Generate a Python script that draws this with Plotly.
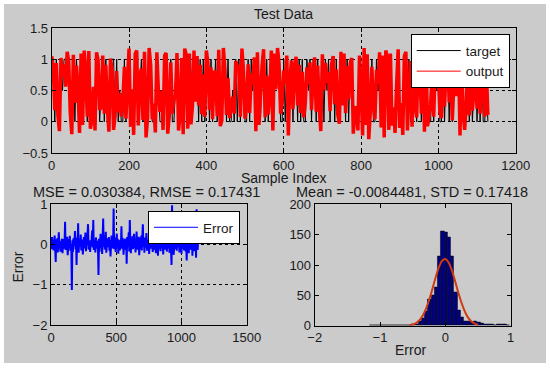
import plotly.graph_objects as go

# ---------------- data ----------------
STEP = 4  # sample spacing used for the hand-read series
target = [
    1,1,0,1,0,0,1,0.5,1,1,1,1,0,0,1,0,1,0.5,0,1,
    0,1,1,0,1,0,0,0,0,1,1,0,0.5,1,0,1,0,0,1,1,
    1,0,1,0,0.5,0,0,1,0,1,1,0,0,0,1,1,0,0.5,1,0,
    1,0,0,1,1,0,0,0,1,0.5,0,0,0,1,1,0,0,1,0,0,
    0.5,0.5,0,0,1,0,1,1,0,1,0,1,1,0.5,1,0,1,0,1,0,
    0.5,1,0,1,0,0.5,1,0,1,0,0,1,1,0,1,0,0,0.5,0,1,
    0,1,0,1,1,0,0,1,0,1,0.5,1,0,1,0,0,1,1,0,1,
    0,0.5,1,0,1,1,1,1,0,0,1,0,1,0,0.5,1,0,1,1,0,
    1,0,1,0,0,1,0.5,1,0,1,1,0,1,0,0,1,0,1,0.5,1,
    0,1,1,0,1,0,0,1,0.5,1,0,1,0,1,1,0,0,0,0,1,
    0.5,0,1,0,1,0,0,1,0,0,1,0.5,1,0,1,0,1,1,0,1,
    0,0,0,0.5,1,0,0,0,1,1,0,1,0,0,1,0.5,0,1,1,0,
    1,0,1,0,0,0,1,0,1,0.5,1,0,0,1,0,1,1,0,1,0,
    1,1,0.5,1,0,1,0,0,0,1,0,1,0,0.5,1,0,1,0,1,0,
    0,1,0,
]
error = [
    0.05,-0.12,0.18,-0.06,0.10,-0.15,0.02,0.22,-0.08,-0.44,0.12,-0.03,0.15,-0.20,0.07,0.30,-0.10,0.04,-0.18,0.09,
    -0.05,0.14,-0.22,0.08,0.13,-0.11,0.03,0.56,-0.14,0.11,-0.02,0.19,-0.27,0.06,0.13,-0.09,0.21,-0.16,0.01,-0.16,
    -1.13,0.10,-0.19,0.15,-0.04,0.08,0.33,-0.12,0.05,-0.51,0.17,-0.08,0.52,-0.21,0.09,0.14,-0.06,0.24,-0.15,0.03,
    0.12,-0.25,0.07,0.18,-0.10,0.04,0.29,-0.17,0.11,-0.02,0.16,0.50,-0.13,0.06,0.10,-0.19,0.09,-0.05,0.13,0.35,
    -0.08,0.60,-0.14,0.10,0.02,-0.20,0.17,0.07,-0.11,0.09,-0.04,-0.76,0.14,-0.18,0.05,0.26,-0.09,0.12,-0.24,0.08,
    0.64,-0.06,0.19,-0.13,0.04,0.31,-0.21,0.09,0.15,-0.07,0.02,0.18,-0.16,0.11,-0.30,0.06,0.22,-0.10,0.13,-0.03,
    0.89,-0.12,0.08,0.17,-0.19,0.05,0.27,-0.08,0.14,-0.23,0.10,0.03,-0.15,0.11,-0.05,0.45,-0.11,0.16,0.07,-0.26,
    0.12,-0.04,0.14,-0.14,0.09,-0.48,0.18,-0.07,0.13,0.30,-0.18,0.60,0.06,-0.22,0.15,-0.02,0.20,-0.12,0.04,0.26,
    -0.09,0.14,-0.20,0.07,0.32,-0.13,0.10,-0.05,0.19,-0.27,0.03,0.16,-0.10,0.22,-0.15,0.08,0.50,-0.06,0.12,-0.21,
    0.17,-0.08,0.05,0.28,-0.16,0.11,-0.03,0.12,-0.24,0.09,0.14,-0.11,0.36,-0.07,0.02,-0.19,0.13,0.25,-0.14,0.06,
    0.10,-0.22,0.18,-0.05,0.08,-0.28,0.15,-0.12,0.27,0.04,-0.17,0.11,0.11,-0.09,0.06,-0.25,0.14,0.03,-0.13,0.09,
    -0.06,0.23,-0.18,0.09,0.16,-0.10,0.30,-0.21,0.05,0.12,-0.14,-0.51,0.97,-0.08,0.18,-0.26,0.07,0.12,-0.12,0.13,
    0.04,-0.16,0.10,-0.07,0.11,0.27,-0.20,0.08,-0.03,0.17,-0.23,0.14,0.06,-0.11,0.24,-0.15,0.09,0.31,-0.18,0.02,
    -0.40,0.12,-0.09,0.09,-0.22,0.07,0.15,-0.13,0.26,-0.06,0.10,-0.28,0.18,0.03,-0.17,0.21,-0.10,0.13,-0.33,0.87,
    0.08,-0.14,0.11,
]
sample_index = [i * STEP for i in range(len(target))]
output = [t + e for t, e in zip(target, error)]

hist_centers = [-1.14,-1.09,-1.04,-0.99,-0.94,-0.89,-0.84,-0.79,-0.74,-0.69,-0.64,-0.59,
                -0.54,-0.49,-0.44,-0.39,-0.34,-0.29,-0.24,-0.19,-0.14,-0.09,-0.04,0.01,
                0.06,0.11,0.16,0.21,0.26,0.31,0.36,0.41,0.46,0.51,0.56,0.61,0.66,0.71,
                0.76,0.81,0.86,0.91,0.96]
hist_counts = [1,0,0,0,0,0,0,0,1,0,0,0,
               1,2,3,7,12,24,44,50,64,115,156,154,
               146,115,55,25,14,8,7,5,8,5,4,3,2,3,
               1,2,3,2,1]
fit_x = [-0.55,-0.5,-0.45,-0.4,-0.35,-0.3,-0.25,-0.2,-0.15,-0.1,-0.05,0.0,
         0.05,0.1,0.15,0.2,0.25,0.3,0.35,0.4,0.45,0.5]
fit_y = [0.9,2.0,4.4,8.7,16,27,42,60,79,96,107,110,
         104,91,73,54,37,23,13,7,3.5,1.6]

top_xticks = [0, 200, 400, 600, 800, 1000, 1200]
top_yticks = [-0.5, 0, 0.5, 1, 1.5]
err_xticks = [0, 500, 1000, 1500]
err_yticks = [-2, -1, 0, 1]
hist_xticks = [-2, -1, 0, 1]
hist_yticks = [0, 50, 100, 150, 200]

# ---------------- figure ----------------
W, H = 550, 371
TICKFONT = dict(family="Arial, Liberation Sans, sans-serif", size=13, color="#1a1a1a")
LABFONT = dict(family="Arial, Liberation Sans, sans-serif", size=14, color="#1a1a1a")
LEGFONT = dict(family="Arial, Liberation Sans, sans-serif", size=13.5, color="#1a1a1a")
TITFONT = dict(family="Arial, Liberation Sans, sans-serif", size=14.5, color="#1a1a1a")

def px(x):
    return x / W

def py(y):
    return 1 - y / H

fig = go.Figure()
fig.add_trace(go.Scatter(x=sample_index, y=target, mode="lines", name="target",
                         line=dict(color="black", width=1), xaxis="x", yaxis="y", legend="legend"))
fig.add_trace(go.Scatter(x=sample_index, y=output, mode="lines", name="output", showlegend=False,
                         line=dict(color="#ff0000", width=3.5), xaxis="x", yaxis="y"))
# legend swatch for output (thin line as in the reference)
fig.add_trace(go.Scatter(x=[None], y=[None], mode="lines", name="output",
                         line=dict(color="#ff0000", width=1), xaxis="x", yaxis="y", legend="legend"))
fig.add_trace(go.Scatter(x=sample_index, y=error, mode="lines", name="Error", showlegend=False,
                         line=dict(color="#0000ff", width=2), xaxis="x2", yaxis="y2"))
fig.add_trace(go.Scatter(x=[None], y=[None], mode="lines", name="Error",
                         line=dict(color="#0000ff", width=1), xaxis="x2", yaxis="y2", legend="legend2"))
fig.add_trace(go.Bar(x=hist_centers, y=hist_counts, width=0.05, showlegend=False,
                     marker=dict(color="#000080", line=dict(color="black", width=0.5)),
                     xaxis="x3", yaxis="y3"))
fig.add_trace(go.Scatter(x=fit_x, y=fit_y, mode="lines", showlegend=False,
                         line=dict(color="#d03a12", width=2, shape="spline"),
                         xaxis="x3", yaxis="y3"))

def ax(domain, rng, ticks, grid, anchor):
    return dict(domain=domain, range=rng, tickvals=ticks, showgrid=grid,
                gridcolor="black", griddash="dot", gridwidth=1,
                showline=True, linecolor="black", linewidth=1, mirror="ticks",
                ticks="inside", ticklen=4, tickcolor="black", zeroline=False,
                tickfont=TICKFONT, anchor=anchor, fixedrange=True, automargin=False)

fig.update_layout(
    width=W, height=H,
    margin=dict(l=0, r=0, t=0, b=0, pad=0),
    paper_bgcolor="white", plot_bgcolor="white",
    font=TICKFONT, bargap=0,
    xaxis=ax([px(51.7), px(515.7)], [0, 1200], top_xticks, True, "y"),
    yaxis=ax([py(153), py(28)], [-0.5, 1.5], top_yticks, True, "x"),
    xaxis2=ax([px(51), px(246.7)], [0, 1500], err_xticks, True, "y2"),
    yaxis2=ax([py(325), py(204)], [-2, 1], err_yticks, True, "x2"),
    xaxis3=ax([px(314.7), px(510.7)], [-2, 1], hist_xticks, False, "y3"),
    yaxis3=ax([py(325.7), py(204.3)], [0, 200], hist_yticks, False, "x3"),
    legend=dict(x=px(509.7), y=py(34.3), xanchor="right", yanchor="top",
                bgcolor="white", bordercolor="black", borderwidth=1,
                font=LEGFONT, tracegroupgap=0, itemwidth=44),
    legend2=dict(x=px(240), y=py(211), xanchor="right", yanchor="top",
                 bgcolor="white", bordercolor="black", borderwidth=1,
                 font=LEGFONT, itemwidth=44),
    shapes=[dict(type="rect", xref="paper", yref="paper",
                 x0=px(4), x1=px(546), y0=py(363), y1=py(4),
                 fillcolor="#cbcbcb", line=dict(width=0), layer="below")],
    annotations=[
        dict(text="Test Data", x=px(283.7), y=py(14), xref="paper", yref="paper",
             showarrow=False, font=LABFONT, xanchor="center", yanchor="middle"),
        dict(text="Sample Index", x=px(283.7), y=py(177.5), xref="paper", yref="paper",
             showarrow=False, font=LABFONT, xanchor="center", yanchor="middle"),
        dict(text="MSE = 0.030384, RMSE = 0.17431", x=px(146.7), y=py(192), xref="paper", yref="paper",
             showarrow=False, font=TITFONT, xanchor="center", yanchor="middle"),
        dict(text="Mean = -0.0084481, STD = 0.17418", x=px(411.7), y=py(192), xref="paper", yref="paper",
             showarrow=False, font=TITFONT, xanchor="center", yanchor="middle"),
        dict(text="Error", x=px(410), y=py(350), xref="paper", yref="paper",
             showarrow=False, font=LABFONT, xanchor="center", yanchor="middle"),
        dict(text="Error", x=px(18.3), y=py(267.3), xref="paper", yref="paper", textangle=-90,
             showarrow=False, font=LABFONT, xanchor="center", yanchor="middle"),
    ],
)

fig.write_html("out.html", config={"displayModeBar": False},
               post_script="document.body.style.margin='0';")
